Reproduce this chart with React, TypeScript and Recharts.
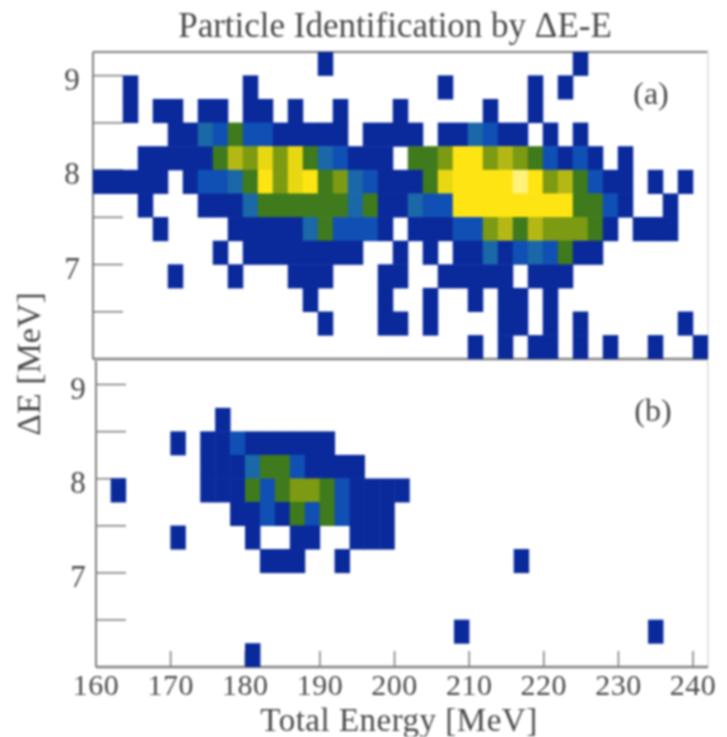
import React from "react";
import { ScatterChart, Scatter, XAxis, YAxis, ReferenceLine } from "recharts";

// Each string is one ΔE row (top to bottom, 0.25 MeV per row); each digit is one 2 MeV energy bin.
// Digit = intensity level: 0 empty, 1 dark blue ... 9 palest yellow. Spaces only group every ten bins.
const panelARows = [
  "0000000000 0000010000 0000000000 0010000000 0",
  "0010000000 1000000000 0001000001 0100000000 0",
  "0010110110 1101001000 1000001001 0000000000 0",
  "0000011324 2211111011 1101132110 1010000000 0",
  "0001111146 5757432111 0445885654 2121010000 0",
  "1111101223 4857845321 1147888898 5642110101 0",
  "0001000111 3444444341 1322888888 8844210010 0",
  "0000100001 1111342221 0111225646 5554101110 0",
  "0000000010 1111111100 1010113123 2411000000 0",
  "0000010001 0001110001 1001111101 1100000000 0",
  "0000000000 0000100001 0010010110 1000000000 0",
  "0000000000 0000010001 1010000110 1010000001 0",
  "0000000000 0000000000 0000010101 1010100100 1",
];

const panelBRows = [
  "0000000000 0000000000 0000000000 0000000000 0",
  "0000000000 0000000000 0000000000 0000000000 0",
  "0000000010 0000000000 0000000000 0000000000 0",
  "0000010112 1111110000 0000000000 0000000000 0",
  "0000000111 3442111100 0000000000 0000000000 0",
  "0100000111 4245542111 1000000000 0000000000 0",
  "0000000001 1214242111 0000000000 0000000000 0",
  "0000010000 1001100111 0000000000 0000000000 0",
  "0000000000 0111001000 0000000010 0000000000 0",
  "0000000000 0000000000 0000000000 0000000000 0",
  "0000000000 0000000000 0000000000 0000000000 0",
  "0000000000 0000000000 0000100000 0000000100 0",
  "0000000000 1000000000 0000000000 0000000000 0",
];

const levelColors = ["#ffffff", "#0a2a9c", "#1050b4", "#1a68a8", "#3f7a1c", "#7c9a12", "#b4b814", "#e8d812", "#ffe414", "#fff27a"];
const xTicks = [160, 170, 180, 190, 200, 210, 220, 230, 240];
const yTicks = [6.5, 7, 7.5, 8, 8.5, 9];
const yLabelled = [7, 8, 9];

const X_MIN = 160;
const BIN_X = 2;
const Y_MAX = 9.25;
const BIN_Y = 0.25;

const toCells = (rows: string[]) =>
  rows.flatMap((row, r) =>
    row
      .replace(/ /g, "")
      .split("")
      .map((d, c) => ({
        energy: X_MIN + BIN_X * c + BIN_X / 2,
        deltaE: Y_MAX - BIN_Y * r - BIN_Y / 2,
        level: Number(d),
      }))
      .filter((cell) => cell.level > 0)
  );

const cellsA = toCells(panelARows);
const cellsB = toCells(panelBRows);

const FONT = "'Liberation Serif', serif";
const INK = "#4a4a4a";
const AXIS = "#808080";
const TICK = { stroke: "#7a7a7a", strokeWidth: 1.5 };

const cellShape = (w: number, h: number) => (props: any) => (
  <rect
    x={props.cx - w / 2 - 0.25}
    y={props.cy - h / 2 - 0.25}
    width={w + 0.5}
    height={h + 0.5}
    fill={levelColors[props.payload.level]}
  />
);

function Panel({ cells, left, top, bottom, labelX, showX }: any) {
  const W = 727;
  const H = 737;
  const right = 708;
  const cellW = ((right - left) / (242 - 160)) * BIN_X;
  const cellH = ((bottom - top) / (Y_MAX - 6)) * BIN_Y;
  return (
    <div style={{ position: "absolute", left: 0, top: 0 }}>
      <ScatterChart width={W} height={H} margin={{ left: 0, top, right: W - right, bottom: H - bottom - 50 }}>
        <XAxis
          type="number"
          dataKey="energy"
          domain={[160, 242]}
          ticks={showX ? xTicks : xTicks.slice(1)}
          height={50}
          tickSize={-16}
          tickLine={TICK}
          stroke={AXIS}
          strokeWidth={2.5}
          interval={0}
          allowDataOverflow
          tick={
            showX
              ? (p: any) => (
                  <text x={p.x} y={bottom + 28} textAnchor="middle" fontFamily={FONT} fontSize={30} letterSpacing={0.5} fill={INK}>
                    {p.payload.value}
                  </text>
                )
              : false
          }
        />
        <YAxis
          type="number"
          dataKey="deltaE"
          domain={[6, Y_MAX]}
          ticks={yTicks}
          width={left}
          tickSize={-30}
          tickLine={TICK}
          stroke={AXIS}
          strokeWidth={2}
          interval={0}
          allowDataOverflow
          tick={(p: any) =>
            yLabelled.includes(p.payload.value) ? (
              <text x={labelX} y={p.y + 14} textAnchor="middle" fontFamily={FONT} fontSize={31} fill={INK}>
                {p.payload.value}
              </text>
            ) : (
              <g />
            )
          }
        />
        {!showX && <ReferenceLine y={Y_MAX} stroke={AXIS} strokeWidth={2} ifOverflow="visible" />}
        <ReferenceLine x={242} stroke="#e4e4e0" strokeWidth={2} ifOverflow="visible" />
        <Scatter data={cells} isAnimationActive={false} shape={cellShape(cellW, cellH)} />
      </ScatterChart>
    </div>
  );
}

const labelStyle = { fontFamily: FONT, fill: INK } as const;

export default function App() {
  return (
    <div style={{ position: "absolute", left: 0, top: 0, width: 727, height: 737, background: "#fff", filter: "blur(0.8px)" }}>
      <Panel cells={cellsA} left={93} top={52} bottom={359} labelX={72} showX={false} />
      <Panel cells={cellsB} left={96} top={361} bottom={667} labelX={78} showX />
      <svg width={727} height={737} style={{ position: "absolute", left: 0, top: 0, pointerEvents: "none" }}>
        <text x={395} y={37} textAnchor="middle" fontSize={35} {...labelStyle}>Particle Identification by ΔE-E</text>
        <text x={399} y={731} textAnchor="middle" fontSize={33} letterSpacing={0.5} {...labelStyle}>Total Energy [MeV]</text>
        <text x={0} y={0} transform="translate(40,364) rotate(-90)" textAnchor="middle" fontSize={34} {...labelStyle}>ΔE [MeV]</text>
        <text x={651} y={104} textAnchor="middle" fontSize={32} {...labelStyle}>(a)</text>
        <text x={653} y={421} textAnchor="middle" fontSize={32} {...labelStyle}>(b)</text>
      </svg>
    </div>
  );
}
